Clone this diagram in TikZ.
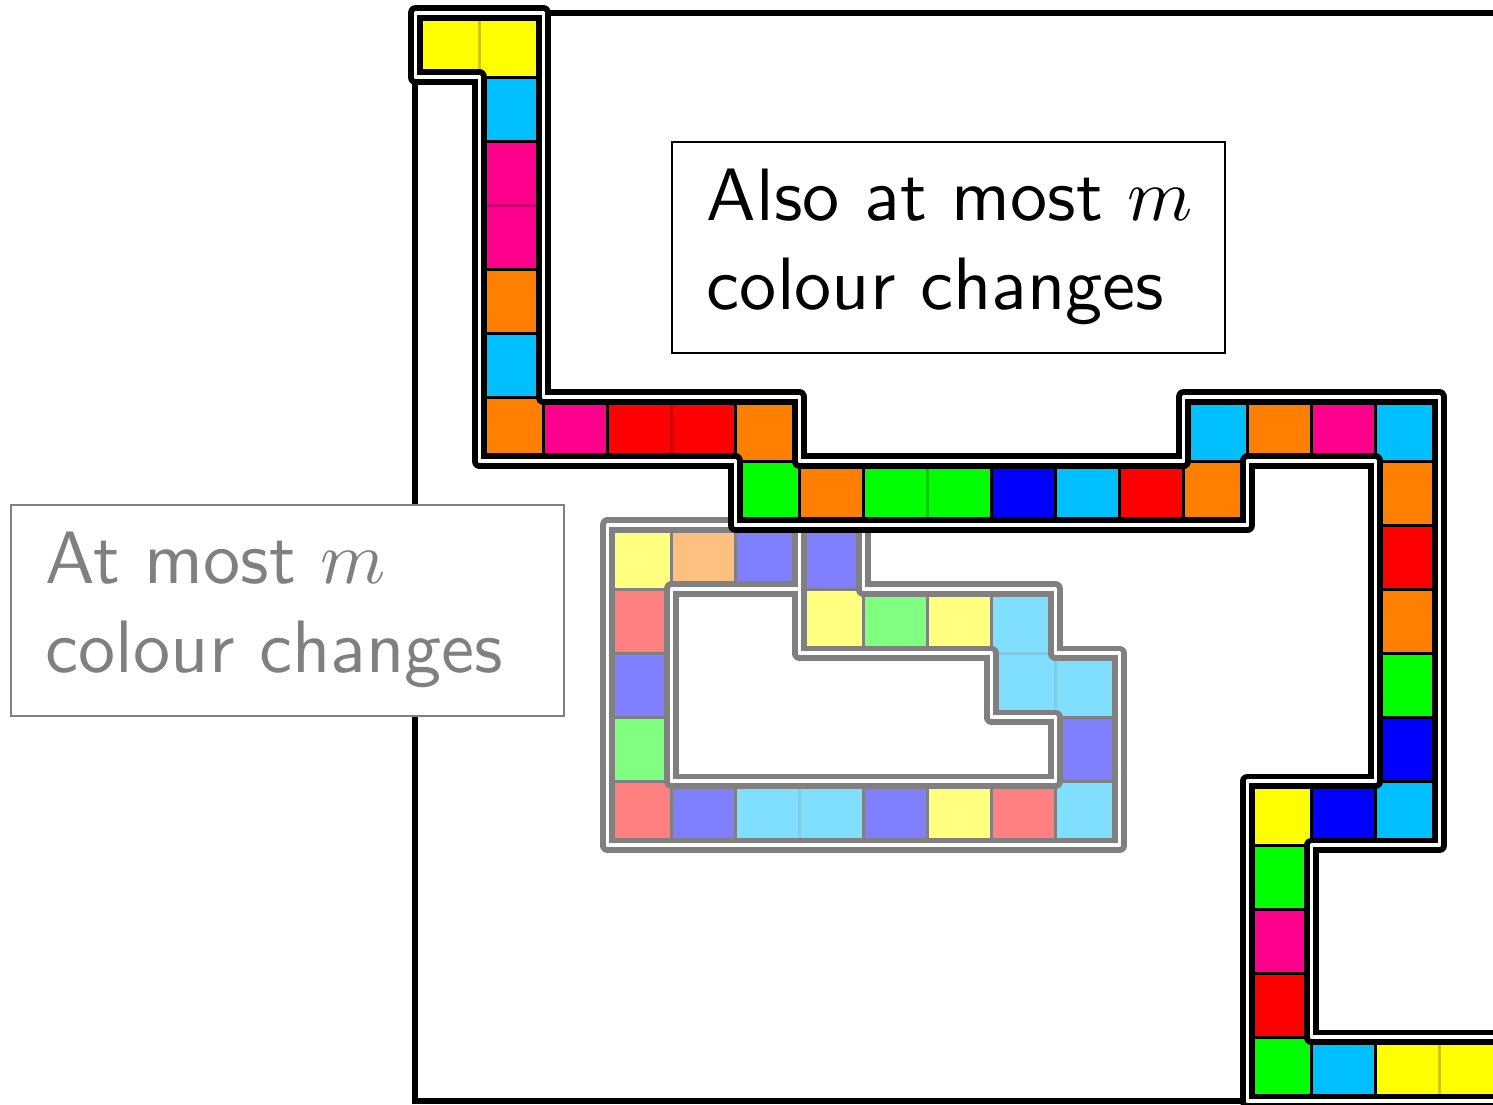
\documentclass[tikz,border=0pt]{standalone}
\definecolor{cA}{RGB}{0,191,255}
\definecolor{cM}{RGB}{255,0,140}
\definecolor{cO}{RGB}{255,128,0}
\definecolor{cY}{RGB}{255,255,0}
\definecolor{cR}{RGB}{255,0,0}
\definecolor{cG}{RGB}{0,255,0}
\definecolor{cB}{RGB}{0,0,255}
\tikzset{
  txtbox/.style={fill=white, line width=0.9pt, minimum width=8.64cm,
    minimum height=3.3cm, inner sep=0pt, font=\sffamily},
  border/.style={line width=2.66pt, double=white, double distance=1.64pt, line join=round},
  frameline/.style={line width=2.66pt}
}
\newcommand\vgapcell[3]{\fill[fill=#3] (#1-\hg,-#2) rectangle (#1+\hg,-#2-1);}
\newcommand\hgapcell[3]{\fill[fill=#3] (#1,-#2+\hg) rectangle (#1+1,-#2-\hg);}
\newcommand\boxtext[2]{\scalebox{3.3}{\makebox[65.1pt][l]{\begin{tabular}{@{}l@{}}#1\\#2\end{tabular}}}}
\begin{document}
\begin{tikzpicture}[x=1cm,y=1cm]
\def\hg{0.0265}
\useasboundingbox (-6.491,-17.042) rectangle (16.837,0.208);
\clip (-6.491,-17.042) rectangle (16.837,0.208);
% outer frame
\draw[frameline] (0,0) rectangle (19,-17);
% grey label
\node[txtbox, draw=black!50, text=black!50] (lefttext) at (-2,-9.33) {\boxtext{At most $m$}{colour changes}};
% grey snake
\fill[black!50, even odd rule] (3,-8) -- (6,-8) -- (6,-9) -- (4,-9) -- (4,-12) -- (10,-12) -- (10,-11) -- (9,-11) -- (9,-10) -- (6,-10) -- (6,-9) -- (6,-8) -- (7,-8) -- (7,-9) -- (10,-9) -- (10,-10) -- (11,-10) -- (11,-13) -- (3,-13) -- cycle;
\foreach \x/\y/\c in {6/8/cB, 6/9/cY, 7/9/cG, 8/9/cY, 9/9/cA, 9/10/cA, 10/10/cA, 10/11/cB,
  10/12/cA, 9/12/cR, 8/12/cY, 7/12/cB, 6/12/cA, 5/12/cA, 4/12/cB, 3/12/cR, 3/11/cG,
  3/10/cB, 3/9/cR, 3/8/cY, 4/8/cO, 5/8/cB}
  \fill[fill=\c!50, shift={(\x,-\y)}] (\hg,-\hg) rectangle (1-\hg,-1+\hg);
\hgapcell{9}{10}{cA!80!black!50!white}
\vgapcell{10}{10}{cA!80!black!50!white}
\vgapcell{6}{12}{cA!80!black!50!white}
\draw[border, black!50] (3,-8) -- (6,-8) -- (6,-9) -- (4,-9) -- (4,-12) -- (10,-12) -- (10,-11) -- (9,-11) -- (9,-10) -- (6,-10) -- (6,-9) -- (6,-8) -- (7,-8) -- (7,-9) -- (10,-9) -- (10,-10) -- (11,-10) -- (11,-13) -- (3,-13) -- cycle;
% black snake
\fill[black] (0,0) -- (2,0) -- (2,-6) -- (6,-6) -- (6,-7) -- (12,-7) -- (12,-6) -- (16,-6) -- (16,-13) -- (14,-13) -- (14,-16) -- (18,-16) -- (18,-17) -- (13,-17) -- (13,-12) -- (15,-12) -- (15,-7) -- (13,-7) -- (13,-8) -- (5,-8) -- (5,-7) -- (1,-7) -- (1,-1) -- (0,-1) -- cycle;
\foreach \x/\y/\c in {0/0/cY, 1/0/cY, 1/1/cA, 1/2/cM, 1/3/cM, 1/4/cO, 1/5/cA, 1/6/cO,
  2/6/cM, 3/6/cR, 4/6/cR, 5/6/cO, 5/7/cG, 6/7/cO, 7/7/cG, 8/7/cG, 9/7/cB, 10/7/cA,
  11/7/cR, 12/7/cO, 12/6/cA, 13/6/cO, 14/6/cM, 15/6/cA, 15/7/cO, 15/8/cR, 15/9/cO,
  15/10/cG, 15/11/cB, 15/12/cA, 14/12/cB, 13/12/cY, 13/13/cG, 13/14/cM, 13/15/cR,
  13/16/cG, 14/16/cA, 15/16/cY, 16/16/cY, 17/16/cY}
  \fill[fill=\c, shift={(\x,-\y)}] (\hg,-\hg) rectangle (1-\hg,-1+\hg);
\vgapcell{1}{0}{cY!80!black}
\hgapcell{1}{3}{cM!80!black}
\vgapcell{4}{6}{cR!80!black}
\vgapcell{8}{7}{cG!80!black}
\vgapcell{16}{16}{cY!80!black}
\vgapcell{17}{16}{cY!80!black}
\draw[border, black] (0,0) -- (2,0) -- (2,-6) -- (6,-6) -- (6,-7) -- (12,-7) -- (12,-6) -- (16,-6) -- (16,-13) -- (14,-13) -- (14,-16) -- (18,-16) -- (18,-17) -- (13,-17) -- (13,-12) -- (15,-12) -- (15,-7) -- (13,-7) -- (13,-8) -- (5,-8) -- (5,-7) -- (1,-7) -- (1,-1) -- (0,-1) -- cycle;
% black label
\node[txtbox, draw=black] (righttext) at (8.33,-3.66) {\boxtext{Also at most $m$}{colour changes}};
\end{tikzpicture}
\end{document}
